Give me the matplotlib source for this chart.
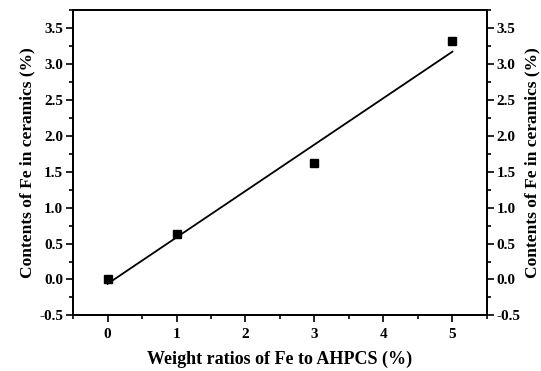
import numpy as np
import matplotlib
matplotlib.use('Agg')
import matplotlib.pyplot as plt
from matplotlib.ticker import MultipleLocator

# Dados
weight_ratio = np.array([0, 1, 3, 5])
fe_content = np.array([0.0, 0.64, 1.62, 3.32])

x_ticks = [0, 1, 2, 3, 4, 5]
y_ticks = [-0.5, 0.0, 0.5, 1.0, 1.5, 2.0, 2.5, 3.0, 3.5]

plt.rcParams['font.family'] = ['Liberation Serif', 'DejaVu Serif']
plt.rcParams['font.weight'] = 'bold'

fig, ax = plt.subplots(figsize=(5.41, 3.71), dpi=100)
fig.subplots_adjust(left=0.135, right=0.9, top=0.972, bottom=0.15)

# Ajuste linear
coef = np.polyfit(weight_ratio, fe_content, 1)
x_fit = np.array([weight_ratio.min(), weight_ratio.max()])
ax.plot(x_fit, np.polyval(coef, x_fit), color='black', lw=1.3)
ax.plot(weight_ratio, fe_content, 's', color='black', ms=5.5)

ax.set_xlim(-0.5, 5.5)
ax.set_ylim(-0.5, 3.75)
ax.set_xticks(x_ticks)
ax.set_yticks(y_ticks)
ax.xaxis.set_minor_locator(MultipleLocator(0.5))
ax.yaxis.set_minor_locator(MultipleLocator(0.25))
ax.set_yticklabels([f'{v:.1f}' for v in y_ticks])

ax.tick_params(which='both', direction='out', width=1.2, labelsize=11, pad=2)
ax.tick_params(axis='x', pad=4)
ax.tick_params(which='major', length=5)
ax.tick_params(which='minor', length=3)
for s in ax.spines.values():
    s.set_linewidth(1.3)

ax.set_xlabel('Weight ratios of Fe to AHPCS (%)', fontsize=13, fontweight='bold', labelpad=7)
ax.set_ylabel('Contents of Fe in ceramics (%)', fontsize=12.5, fontweight='bold', labelpad=3)

# Eixo da direita espelhado
ax2 = ax.twinx()
ax2.set_ylim(ax.get_ylim())
ax2.set_yticks(y_ticks)
ax2.set_yticklabels([f'{v:.1f}' for v in y_ticks])
ax2.yaxis.set_minor_locator(MultipleLocator(0.25))
ax2.tick_params(which='both', direction='out', width=1.2, labelsize=11, pad=2)
ax2.tick_params(which='major', length=5)
ax2.tick_params(which='minor', length=3)
ax2.set_ylabel('Contents of Fe in ceramics (%)', fontsize=12.5, fontweight='bold', labelpad=3)
for s in ax2.spines.values():
    s.set_linewidth(1.3)

plt.savefig('out.png', dpi=100)
